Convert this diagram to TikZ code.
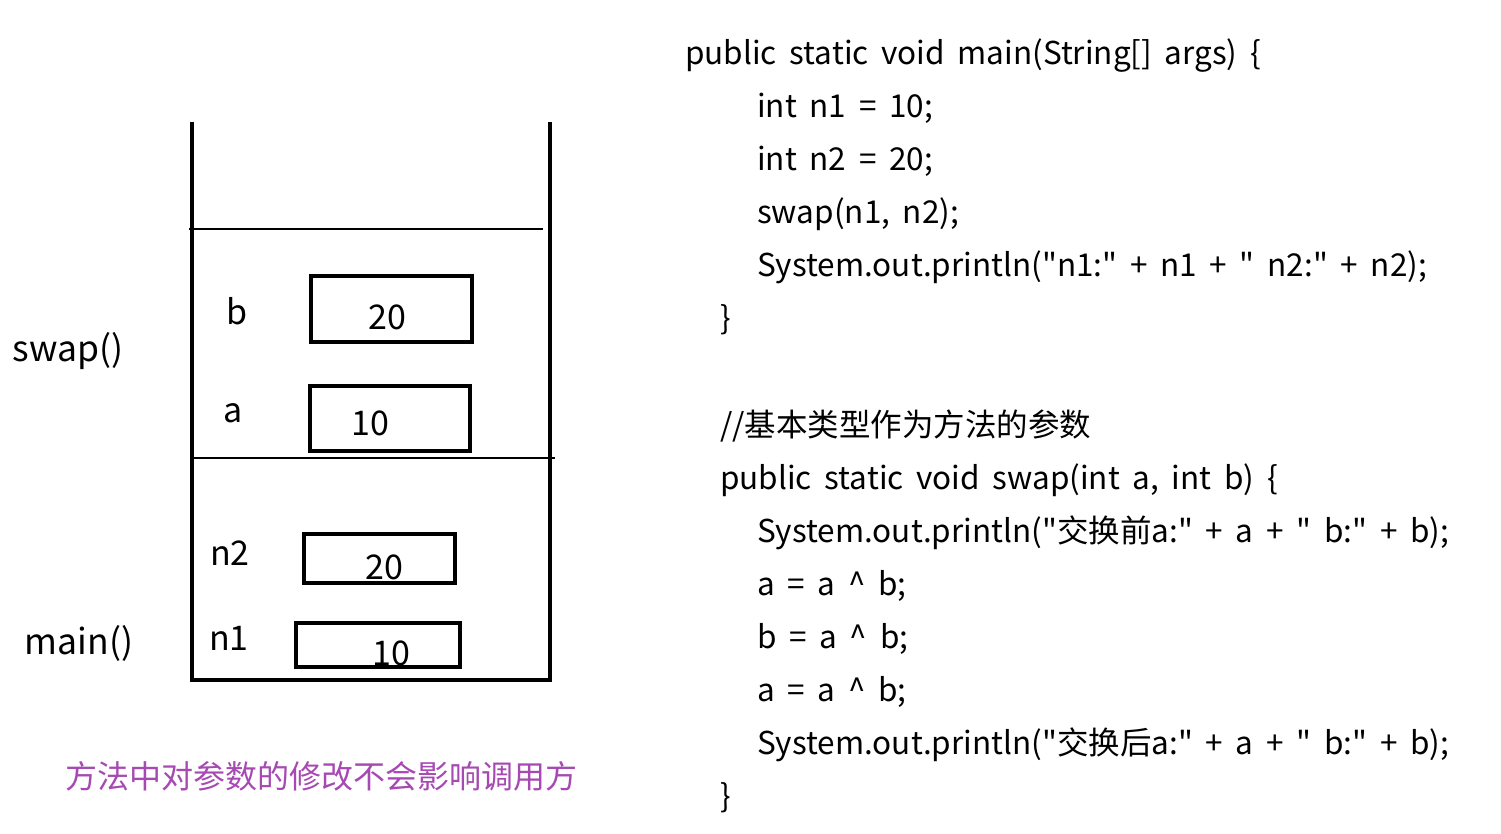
\documentclass[tikz,border=0pt]{standalone}
\usepackage{fontspec}
\setmainfont{Noto Sans CJK SC}[Ligatures=TeXOff]
\newfontfamily\codefont{Noto Sans CJK SC}[Ligatures=TeXOff, WordSpace=1.8]
\usetikzlibrary{positioning}
\definecolor{notepurple}{RGB}{166,73,178}
\tikzset{
  code/.style={anchor=base west, inner sep=0pt, font=\codefont\fontsize{31.5}{37}\selectfont},
  label/.style={inner sep=0pt, font=\fontsize{34}{40}\selectfont},
  cell/.style={draw, line width=4pt, inner sep=0pt},
  wall/.style={line width=4pt},
  divider/.style={line width=1.2pt}
}
\begin{document}
\begin{tikzpicture}[x=1pt, y=-1pt]
  \useasboundingbox (0,0) rectangle (1501,833);
  % stack
  \coordinate (tl) at (192,122);
  \coordinate (bl) at (192,680);
  \coordinate (br) at (550,680);
  \coordinate (tr) at (550,122);
  \draw[wall] (tl) -- (bl) -- (br) -- (tr);
  \draw[divider] (189,229) -- (543,229);
  \draw[divider] (192,458) -- (555,458);
  % swap frame
  \node[cell, minimum width=161, minimum height=66] (bbox) at (391.5,309) {};
  \node[cell, minimum width=160, minimum height=65] (abox) at (390,418.5) {};
  \node[label] (bname) at (237,311) {b};
  \node[label] (aname) at (233,413) {a};
  \node[label] (bval) at (387,317) {20};
  \node[label] (aval) at (370,423) {10};
  % main frame
  \node[cell, minimum width=151, minimum height=49] (ntwobox) at (379,558) {};
  \node[cell, minimum width=164, minimum height=44] (nonebox) at (377.5,644.5) {};
  \node[label] (ntwoname) at (230,553) {n2};
  \node[label] (nonename) at (229,638) {n1};
  \node[label] (ntwoval) at (384,567) {20};
  \node[label] (noneval) at (391,653) {10};
  % frame names
  \node[label, font=\fontsize{35.5}{40}\selectfont] (swapname) at (68,351) {swap()};
  \node[label, font=\fontsize{35.5}{40}\selectfont] (mainname) at (79,643) {main()};
  \node[label, text=notepurple, font=\fontsize{32}{38}\selectfont] (note) at (321,776) {方法中对参数的修改不会影响调用方};
  % code
  \node[code] (m1) at (685,64) {public static void main(String[] args) \{};
  \node[code] (m2) at (757,117) {int n1 = 10;};
  \node[code] (m3) at (757,170) {int n2 = 20;};
  \node[code] (m4) at (757,223) {swap(n1, n2);};
  \node[code] (m5) at (757,276) {System.out.println("n1:" + n1 + " n2:" + n2);};
  \node[code] (m6) at (720,329) {\}};
  \node[code] (s0) at (720,436) {//基本类型作为方法的参数};
  \node[code] (s1) at (720,489) {public static void swap(int a, int b) \{};
  \node[code] (s2) at (757,542) {System.out.println("交换前a:" + a + " b:" + b);};
  \node[code] (s3) at (757,595) {a = a \^{} b;};
  \node[code] (s4) at (757,648) {b = a \^{} b;};
  \node[code] (s5) at (757,701) {a = a \^{} b;};
  \node[code] (s6) at (757,754) {System.out.println("交换后a:" + a + " b:" + b);};
  \node[code] (s7) at (720,807) {\}};
\end{tikzpicture}
\end{document}
